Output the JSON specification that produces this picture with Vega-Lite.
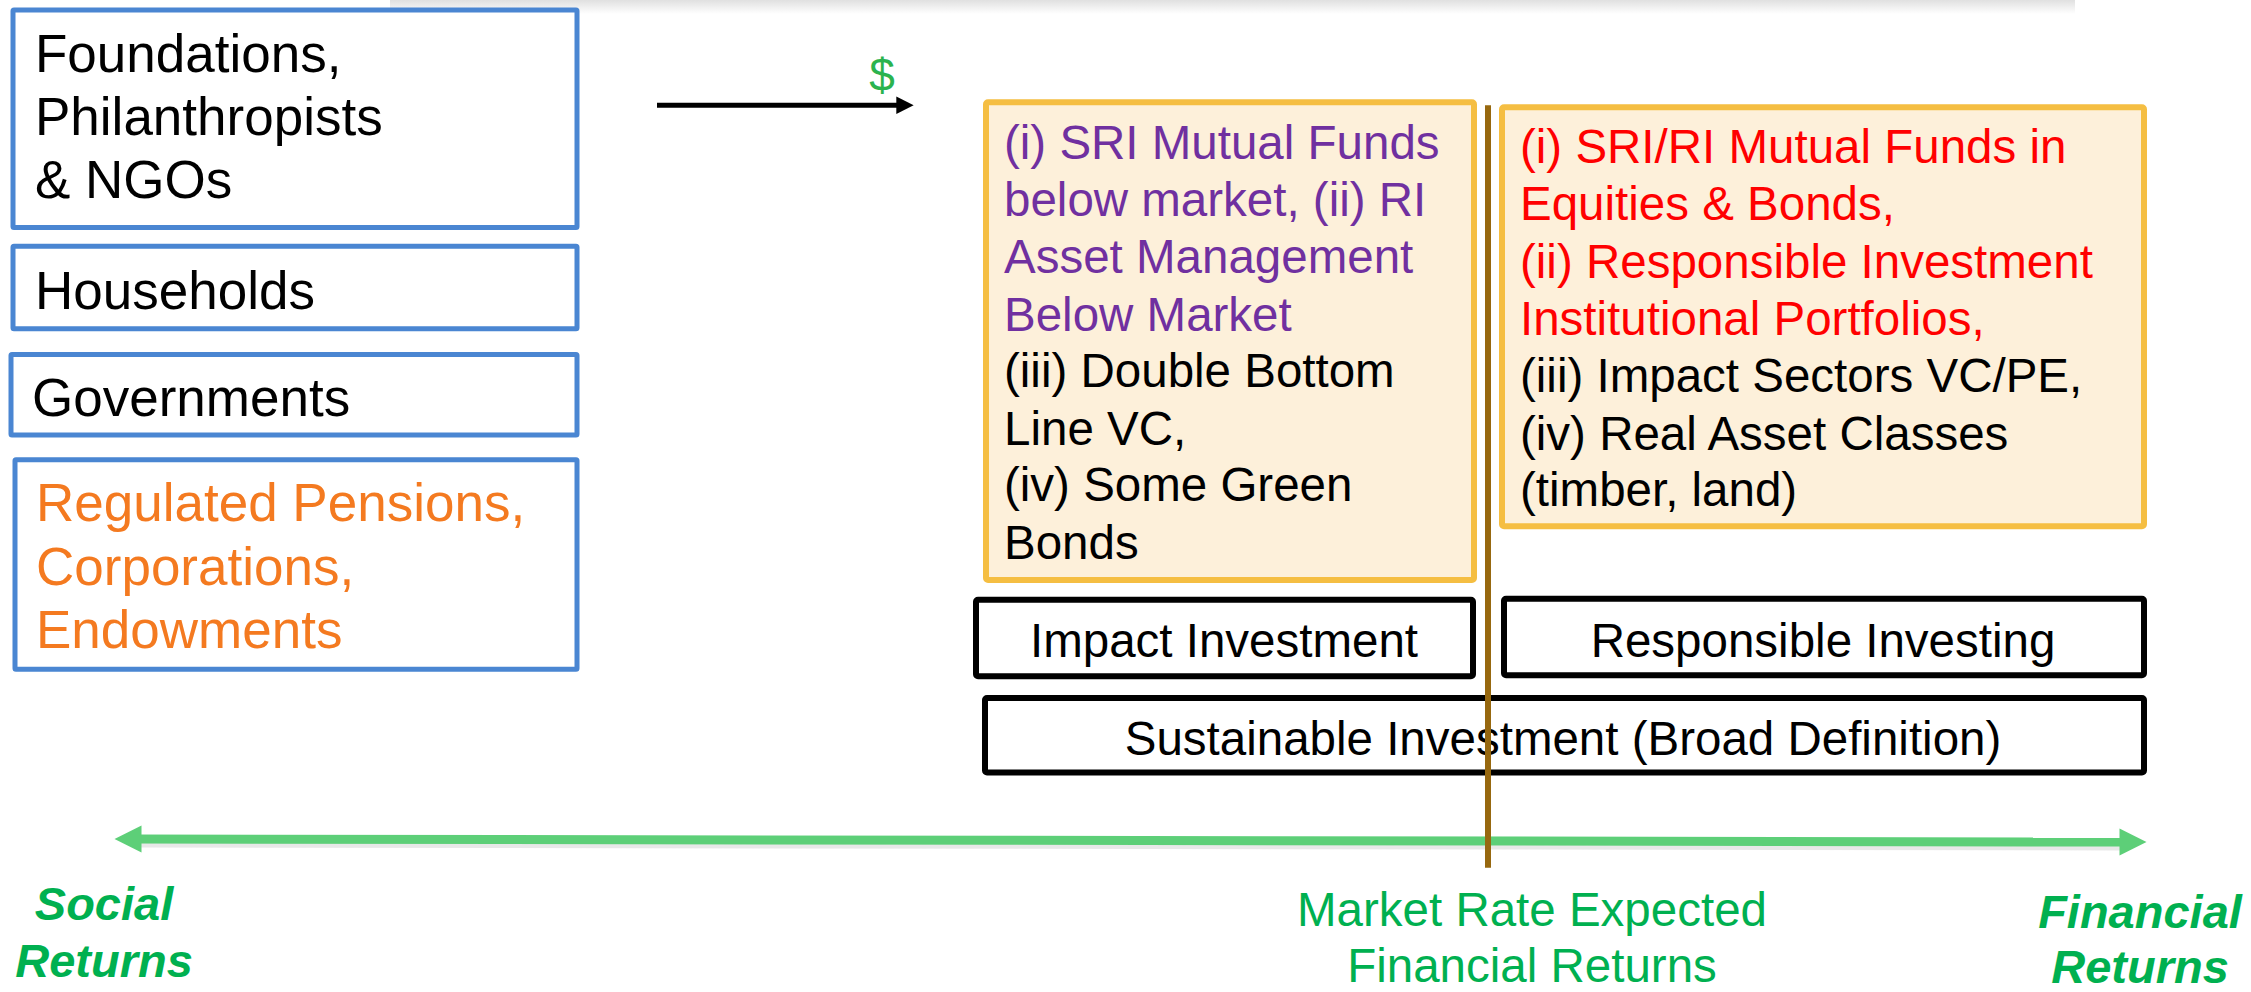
{
  "$schema": "https://vega.github.io/schema/vega-lite/v6.json",
  "width": 2251,
  "height": 992,
  "autosize": {"type": "fit", "contains": "padding"},
  "padding": 0,
  "background": "white",
  "config": {"view": {"stroke": null}},
  "datasets": {
    "shadow": [{"x0": 390, "x1": 2075, "y0": 0, "y1": 14}],
    "blueBoxes": [
      {"name": "Foundations", "x0": 13, "x1": 577, "y0": 10, "y1": 229},
      {"name": "Households", "x0": 13, "x1": 577, "y0": 248, "y1": 331},
      {"name": "Governments", "x0": 11, "x1": 577, "y0": 357, "y1": 438},
      {"name": "Regulated", "x0": 15, "x1": 577, "y0": 463, "y1": 674}
    ],
    "yellowBoxes": [
      {"name": "Impact examples", "x0": 986, "x1": 1474, "y0": 103, "y1": 584},
      {"name": "Responsible examples", "x0": 1502, "x1": 2144, "y0": 108, "y1": 530}
    ],
    "blackBoxes": [
      {"name": "Impact Investment", "x0": 976, "x1": 1473, "y0": 604, "y1": 681},
      {"name": "Responsible Investing", "x0": 1504, "x1": 2144, "y0": 603, "y1": 680},
      {"name": "Sustainable Investment", "x0": 985, "x1": 2144, "y0": 703, "y1": 778}
    ],
    "greenArrow": [{"x0": 135, "x1": 2122, "y0": 845, "y1": 848}],
    "greenShadow": [{"x0": 137, "x1": 2124, "y0": 849, "y1": 852}],
    "greenHeads": [
      {"end": "left", "x": 128, "y": 845},
      {"end": "right", "x": 2133, "y": 848}
    ],
    "blackArrow": [{"x0": 657, "x1": 900, "y0": 106, "y1": 106}],
    "blackHead": [{"x": 905, "y": 106}],
    "marketLine": [{"x0": 1488, "x1": 1488, "y0": 106, "y1": 874}],
    "texts": [
      {"g": "blk53", "x": 35, "y": 73, "t": "Foundations,"},
      {"g": "blk53", "x": 35, "y": 136, "t": "Philanthropists"},
      {"g": "blk53", "x": 35, "y": 199, "t": "& NGOs"},
      {"g": "blk53", "x": 35, "y": 311, "t": "Households"},
      {"g": "blk53", "x": 32, "y": 419, "t": "Governments"},
      {"g": "org53", "x": 36, "y": 525, "t": "Regulated Pensions,"},
      {"g": "org53", "x": 36, "y": 589, "t": "Corporations,"},
      {"g": "org53", "x": 36, "y": 653, "t": "Endowments"},
      {"g": "pur", "x": 1004, "y": 160, "t": "(i) SRI Mutual Funds"},
      {"g": "pur", "x": 1004, "y": 218, "t": "below market, (ii) RI"},
      {"g": "pur", "x": 1004, "y": 275, "t": "Asset Management"},
      {"g": "pur", "x": 1004, "y": 333, "t": "Below Market"},
      {"g": "blk", "x": 1004, "y": 390, "t": "(iii) Double Bottom"},
      {"g": "blk", "x": 1004, "y": 448, "t": "Line VC,"},
      {"g": "blk", "x": 1004, "y": 505, "t": "(iv) Some Green"},
      {"g": "blk", "x": 1004, "y": 563, "t": "Bonds"},
      {"g": "red", "x": 1520, "y": 164, "t": "(i) SRI/RI Mutual Funds in"},
      {"g": "red", "x": 1520, "y": 222, "t": "Equities & Bonds,"},
      {"g": "red", "x": 1520, "y": 280, "t": "(ii) Responsible Investment"},
      {"g": "red", "x": 1520, "y": 337, "t": "Institutional Portfolios,"},
      {"g": "blk", "x": 1520, "y": 395, "t": "(iii) Impact Sectors VC/PE,"},
      {"g": "blk", "x": 1520, "y": 453, "t": "(iv) Real Asset Classes"},
      {"g": "blk", "x": 1520, "y": 510, "t": "(timber, land)"},
      {"g": "ctr", "x": 1224, "y": 662, "t": "Impact Investment"},
      {"g": "ctr", "x": 1823, "y": 662, "t": "Responsible Investing"},
      {"g": "ctr", "x": 1563, "y": 760, "t": "Sustainable Investment (Broad Definition)"},
      {"g": "grn", "x": 1532, "y": 933, "t": "Market Rate Expected"},
      {"g": "grn", "x": 1532, "y": 989, "t": "Financial Returns"},
      {"g": "grnbi", "x": 104, "y": 927, "t": "Social"},
      {"g": "grnbi", "x": 104, "y": 984, "t": "Returns"},
      {"g": "grnbi", "x": 2140, "y": 935, "t": "Financial"},
      {"g": "grnbi", "x": 2140, "y": 990, "t": "Returns"},
      {"g": "dollar", "x": 882, "y": 92, "t": "$"}
    ]
  },
  "layer": [
    {
      "data": {"name": "shadow"},
      "mark": {"type": "rect", "fill": {"gradient": "linear", "x1": 0, "y1": 0, "x2": 0, "y2": 1, "stops": [{"offset": 0, "color": "#e0e0e0"}, {"offset": 1, "color": "#ffffff"}]}},
      "encoding": {
        "x": {"field": "x0", "type": "quantitative", "scale": {"domain": [0, 2251], "nice": false}, "axis": null},
        "x2": {"field": "x1"},
        "y": {"field": "y0", "type": "quantitative", "scale": {"domain": [0, 992], "nice": false, "reverse": true}, "axis": null},
        "y2": {"field": "y1"}
      }
    },
    {
      "data": {"name": "blueBoxes"},
      "mark": {"type": "rect", "fill": "white", "stroke": "#4a86d2", "strokeWidth": 5, "cornerRadius": 1},
      "encoding": {
        "x": {"field": "x0", "type": "quantitative", "scale": {"domain": [0, 2251], "nice": false}, "axis": null},
        "x2": {"field": "x1"},
        "y": {"field": "y0", "type": "quantitative", "scale": {"domain": [0, 992], "nice": false, "reverse": true}, "axis": null},
        "y2": {"field": "y1"}
      }
    },
    {
      "data": {"name": "yellowBoxes"},
      "mark": {"type": "rect", "fill": "#fdf0da", "stroke": "#f5be42", "strokeWidth": 6, "cornerRadius": 2},
      "encoding": {
        "x": {"field": "x0", "type": "quantitative", "scale": {"domain": [0, 2251], "nice": false}, "axis": null},
        "x2": {"field": "x1"},
        "y": {"field": "y0", "type": "quantitative", "scale": {"domain": [0, 992], "nice": false, "reverse": true}, "axis": null},
        "y2": {"field": "y1"}
      }
    },
    {
      "data": {"name": "blackBoxes"},
      "mark": {"type": "rect", "fill": "white", "stroke": "#000000", "strokeWidth": 6, "cornerRadius": 2},
      "encoding": {
        "x": {"field": "x0", "type": "quantitative", "scale": {"domain": [0, 2251], "nice": false}, "axis": null},
        "x2": {"field": "x1"},
        "y": {"field": "y0", "type": "quantitative", "scale": {"domain": [0, 992], "nice": false, "reverse": true}, "axis": null},
        "y2": {"field": "y1"}
      }
    },
    {
      "data": {"name": "greenShadow"},
      "mark": {"type": "rule", "color": "#bdbdbd", "opacity": 0.35, "strokeWidth": 9, "strokeCap": "butt"},
      "encoding": {
        "x": {"field": "x0", "type": "quantitative", "scale": {"domain": [0, 2251], "nice": false}, "axis": null},
        "x2": {"field": "x1"},
        "y": {"field": "y0", "type": "quantitative", "scale": {"domain": [0, 992], "nice": false, "reverse": true}, "axis": null},
        "y2": {"field": "y1"}
      }
    },
    {
      "data": {"name": "greenArrow"},
      "mark": {"type": "rule", "color": "#5dcf78", "strokeWidth": 9, "strokeCap": "butt"},
      "encoding": {
        "x": {"field": "x0", "type": "quantitative", "scale": {"domain": [0, 2251], "nice": false}, "axis": null},
        "x2": {"field": "x1"},
        "y": {"field": "y0", "type": "quantitative", "scale": {"domain": [0, 992], "nice": false, "reverse": true}, "axis": null},
        "y2": {"field": "y1"}
      }
    },
    {
      "data": {"name": "greenHeads"},
      "transform": [{"filter": "datum.end === 'right'"}],
      "mark": {"type": "point", "shape": "M-1,-1L1,0L-1,1Z", "filled": true, "color": "#5dcf78", "opacity": 1, "size": 729, "strokeWidth": 0},
      "encoding": {
        "x": {"field": "x", "type": "quantitative", "scale": {"domain": [0, 2251], "nice": false}, "axis": null},
        "y": {"field": "y", "type": "quantitative", "scale": {"domain": [0, 992], "nice": false, "reverse": true}, "axis": null}
      }
    },
    {
      "data": {"name": "greenHeads"},
      "transform": [{"filter": "datum.end === 'left'"}],
      "mark": {"type": "point", "shape": "M1,-1L-1,0L1,1Z", "filled": true, "color": "#5dcf78", "opacity": 1, "size": 729, "strokeWidth": 0},
      "encoding": {
        "x": {"field": "x", "type": "quantitative", "scale": {"domain": [0, 2251], "nice": false}, "axis": null},
        "y": {"field": "y", "type": "quantitative", "scale": {"domain": [0, 992], "nice": false, "reverse": true}, "axis": null}
      }
    },
    {
      "data": {"name": "blackArrow"},
      "mark": {"type": "rule", "color": "#000000", "strokeWidth": 5, "strokeCap": "butt"},
      "encoding": {
        "x": {"field": "x0", "type": "quantitative", "scale": {"domain": [0, 2251], "nice": false}, "axis": null},
        "x2": {"field": "x1"},
        "y": {"field": "y0", "type": "quantitative", "scale": {"domain": [0, 992], "nice": false, "reverse": true}, "axis": null},
        "y2": {"field": "y1"}
      }
    },
    {
      "data": {"name": "blackHead"},
      "mark": {"type": "point", "shape": "M-1,-1L1,0L-1,1Z", "filled": true, "color": "#000000", "opacity": 1, "size": 300, "strokeWidth": 0},
      "encoding": {
        "x": {"field": "x", "type": "quantitative", "scale": {"domain": [0, 2251], "nice": false}, "axis": null},
        "y": {"field": "y", "type": "quantitative", "scale": {"domain": [0, 992], "nice": false, "reverse": true}, "axis": null}
      }
    },
    {
      "data": {"name": "texts"},
      "transform": [{"filter": "datum.g === 'blk53'"}],
      "mark": {"type": "text", "align": "left", "baseline": "alphabetic", "font": "Liberation Sans", "fontSize": 53, "color": "#000000"},
      "encoding": {
        "x": {"field": "x", "type": "quantitative", "scale": {"domain": [0, 2251], "nice": false}, "axis": null},
        "y": {"field": "y", "type": "quantitative", "scale": {"domain": [0, 992], "nice": false, "reverse": true}, "axis": null},
        "text": {"field": "t"}
      }
    },
    {
      "data": {"name": "texts"},
      "transform": [{"filter": "datum.g === 'org53'"}],
      "mark": {"type": "text", "align": "left", "baseline": "alphabetic", "font": "Liberation Sans", "fontSize": 53, "color": "#f47a20"},
      "encoding": {
        "x": {"field": "x", "type": "quantitative", "scale": {"domain": [0, 2251], "nice": false}, "axis": null},
        "y": {"field": "y", "type": "quantitative", "scale": {"domain": [0, 992], "nice": false, "reverse": true}, "axis": null},
        "text": {"field": "t"}
      }
    },
    {
      "data": {"name": "texts"},
      "transform": [{"filter": "datum.g === 'pur'"}],
      "mark": {"type": "text", "align": "left", "baseline": "alphabetic", "font": "Liberation Sans", "fontSize": 47.5, "color": "#7030a0"},
      "encoding": {
        "x": {"field": "x", "type": "quantitative", "scale": {"domain": [0, 2251], "nice": false}, "axis": null},
        "y": {"field": "y", "type": "quantitative", "scale": {"domain": [0, 992], "nice": false, "reverse": true}, "axis": null},
        "text": {"field": "t"}
      }
    },
    {
      "data": {"name": "texts"},
      "transform": [{"filter": "datum.g === 'red'"}],
      "mark": {"type": "text", "align": "left", "baseline": "alphabetic", "font": "Liberation Sans", "fontSize": 47.5, "color": "#ff0000"},
      "encoding": {
        "x": {"field": "x", "type": "quantitative", "scale": {"domain": [0, 2251], "nice": false}, "axis": null},
        "y": {"field": "y", "type": "quantitative", "scale": {"domain": [0, 992], "nice": false, "reverse": true}, "axis": null},
        "text": {"field": "t"}
      }
    },
    {
      "data": {"name": "texts"},
      "transform": [{"filter": "datum.g === 'blk'"}],
      "mark": {"type": "text", "align": "left", "baseline": "alphabetic", "font": "Liberation Sans", "fontSize": 47.5, "color": "#000000"},
      "encoding": {
        "x": {"field": "x", "type": "quantitative", "scale": {"domain": [0, 2251], "nice": false}, "axis": null},
        "y": {"field": "y", "type": "quantitative", "scale": {"domain": [0, 992], "nice": false, "reverse": true}, "axis": null},
        "text": {"field": "t"}
      }
    },
    {
      "data": {"name": "texts"},
      "transform": [{"filter": "datum.g === 'ctr'"}],
      "mark": {"type": "text", "align": "center", "baseline": "alphabetic", "font": "Liberation Sans", "fontSize": 47.5, "color": "#000000"},
      "encoding": {
        "x": {"field": "x", "type": "quantitative", "scale": {"domain": [0, 2251], "nice": false}, "axis": null},
        "y": {"field": "y", "type": "quantitative", "scale": {"domain": [0, 992], "nice": false, "reverse": true}, "axis": null},
        "text": {"field": "t"}
      }
    },
    {
      "data": {"name": "texts"},
      "transform": [{"filter": "datum.g === 'grn'"}],
      "mark": {"type": "text", "align": "center", "baseline": "alphabetic", "font": "Liberation Sans", "fontSize": 47.5, "color": "#00b050"},
      "encoding": {
        "x": {"field": "x", "type": "quantitative", "scale": {"domain": [0, 2251], "nice": false}, "axis": null},
        "y": {"field": "y", "type": "quantitative", "scale": {"domain": [0, 992], "nice": false, "reverse": true}, "axis": null},
        "text": {"field": "t"}
      }
    },
    {
      "data": {"name": "texts"},
      "transform": [{"filter": "datum.g === 'grnbi'"}],
      "mark": {"type": "text", "align": "center", "baseline": "alphabetic", "font": "Liberation Sans", "fontSize": 47, "fontWeight": "bold", "fontStyle": "italic", "color": "#00b050"},
      "encoding": {
        "x": {"field": "x", "type": "quantitative", "scale": {"domain": [0, 2251], "nice": false}, "axis": null},
        "y": {"field": "y", "type": "quantitative", "scale": {"domain": [0, 992], "nice": false, "reverse": true}, "axis": null},
        "text": {"field": "t"}
      }
    },
    {
      "data": {"name": "texts"},
      "transform": [{"filter": "datum.g === 'dollar'"}],
      "mark": {"type": "text", "align": "center", "baseline": "alphabetic", "font": "Liberation Sans", "fontSize": 46, "color": "#2bb34e"},
      "encoding": {
        "x": {"field": "x", "type": "quantitative", "scale": {"domain": [0, 2251], "nice": false}, "axis": null},
        "y": {"field": "y", "type": "quantitative", "scale": {"domain": [0, 992], "nice": false, "reverse": true}, "axis": null},
        "text": {"field": "t"}
      }
    },
    {
      "data": {"name": "marketLine"},
      "mark": {"type": "rule", "color": "#97680f", "strokeWidth": 6, "strokeCap": "butt"},
      "encoding": {
        "x": {"field": "x0", "type": "quantitative", "scale": {"domain": [0, 2251], "nice": false}, "axis": null},
        "x2": {"field": "x1"},
        "y": {"field": "y0", "type": "quantitative", "scale": {"domain": [0, 992], "nice": false, "reverse": true}, "axis": null},
        "y2": {"field": "y1"}
      }
    }
  ]
}
